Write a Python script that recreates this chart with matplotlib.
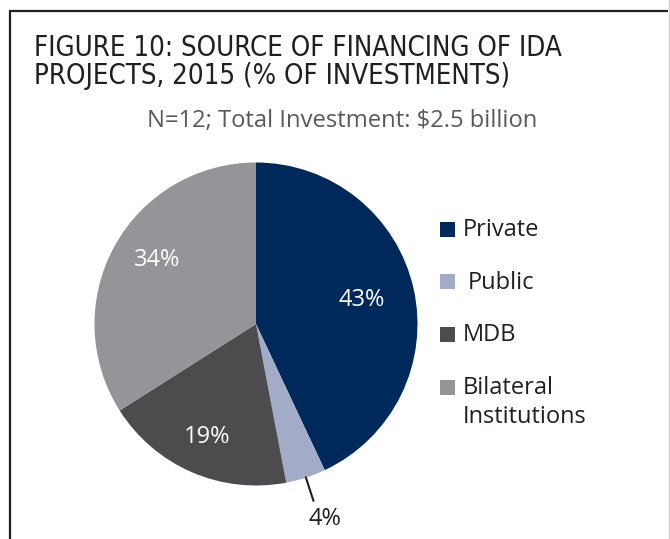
import numpy as np
import matplotlib.pyplot as plt
from matplotlib.patches import Rectangle

# data
categories = ['Private', 'Public', 'MDB', 'Bilateral\nInstitutions']
shares = [43, 4, 19, 34]
colors = ['#00295b', '#a2acc8', '#4c4c4e', '#949598']

title_lines = ['FIGURE 10: SOURCE OF FINANCING OF IDA', 'PROJECTS, 2015 (% OF INVESTMENTS)']
subtitle = 'N=12; Total Investment: $2.5 billion'

body = 'Open Sans'

W, H = 670, 539
fig = plt.figure(figsize=(W / 100, H / 100), dpi=100)
ax = fig.add_axes([0, 0, 1, 1])

def py(y):  # pixel row -> data y
    return H - y

# pie
cx, cy, r = 256, py(324), 161.5
wedges, _ = ax.pie(shares, colors=colors, startangle=90, counterclock=False,
                   center=(cx, cy), radius=r, frame=True,
                   wedgeprops=dict(linewidth=0))
ax.set_xlim(0, W)
ax.set_ylim(0, H)
ax.set_aspect('equal')
ax.axis('off')

# frame
ax.plot([10, 10], [py(11), py(539)], color='#231f20', lw=1.6, solid_capstyle='butt')
ax.plot([9, 668], [py(11), py(11)], color='#231f20', lw=1.6, solid_capstyle='butt')
ax.plot([668.5, 668.5], [py(0), py(539)], color='#cfcfcf', lw=1.0)

# titles
for i, line in enumerate(title_lines):
    ax.text(34, py(56 + i * 28), line, fontsize=19.8, family='DejaVu Sans',
            stretch='condensed', color='#231f20', va='baseline', ha='left')
ax.text(342, py(127), subtitle, fontsize=17.1, family=body, color='#58595b',
        va='baseline', ha='center')

label_dist = [0.67, 1.28, 0.76, 0.73]
start = 90.0
for i, s in enumerate(shares):
    mid = np.deg2rad(start - s / 100 * 360 / 2)
    start -= s / 100 * 360
    d = label_dist[i]
    if i == 3:
        mid += np.deg2rad(-4)
    if i == 1:
        ax.plot([cx + 1.0 * r * np.cos(mid), cx + 1.15 * r * np.cos(mid)],
                [cy + 1.0 * r * np.sin(mid), cy + 1.15 * r * np.sin(mid)],
                color='#231f20', lw=1.5)
        mid += np.deg2rad(1.5)
        x, y = cx + d * r * np.cos(mid), cy + d * r * np.sin(mid)
        ax.text(x, y, f'{s}%', fontsize=17, family=body, color='#231f20',
                ha='center', va='center')
    else:
        x, y = cx + d * r * np.cos(mid), cy + d * r * np.sin(mid)
        ax.text(x, y, f'{s}%', fontsize=17, family=body, color='white',
                ha='center', va='center')

# legend
for i, (lab, c) in enumerate(zip(categories, colors)):
    yc = 229 + i * 52.7
    ax.add_patch(Rectangle((440, py(yc) - 7.5), 15, 15, color=c, lw=0))
    tx = 468 if lab == 'Public' else 463
    for j, part in enumerate(lab.split('\n')):
        ax.text(tx, py(yc + 1 + j * 29), part, fontsize=17, family=body,
                color='#231f20', ha='left', va='center')

fig.savefig('out.png', dpi=100, facecolor='white')
